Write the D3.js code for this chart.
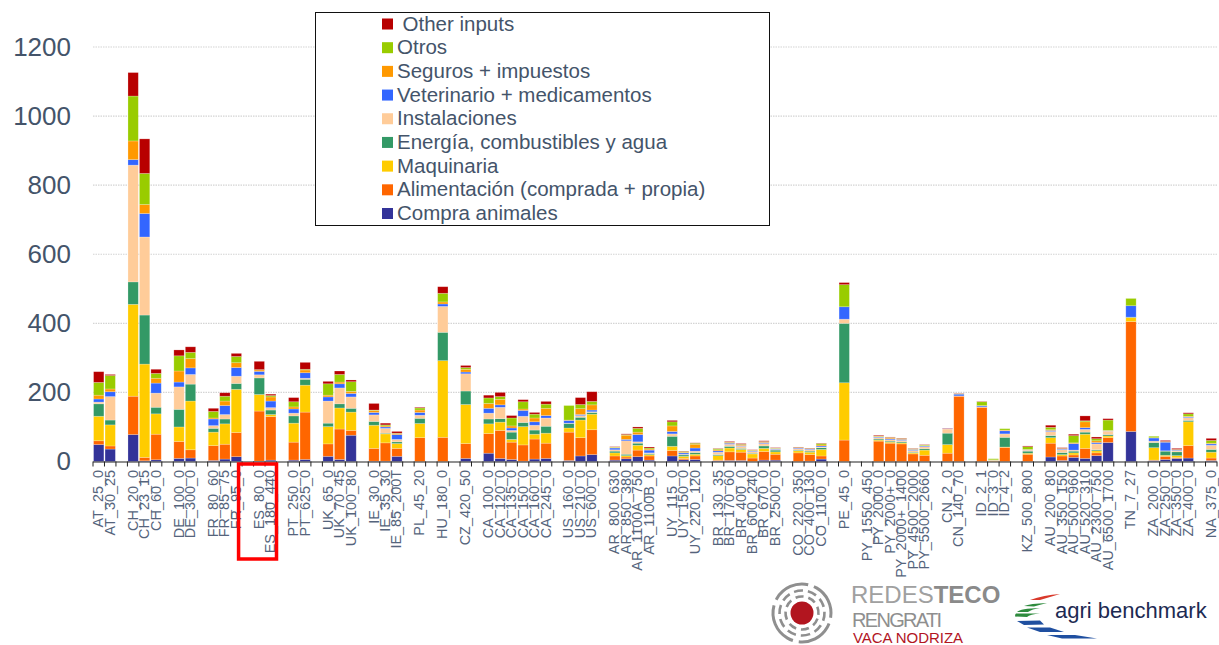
<!DOCTYPE html>
<html><head><meta charset="utf-8">
<script src="https://cdnjs.cloudflare.com/ajax/libs/d3/7.8.5/d3.min.js"></script>
<style>html,body{margin:0;padding:0;background:#fff}svg{display:block}text{font-family:"Liberation Sans",Arial,sans-serif}</style>
</head><body><svg id="c" width="1219" height="645"></svg>
<script>
const seriesNames=["Compra animales","Alimentación (comprada + propia)","Maquinaria","Energía, combustibles y agua","Instalaciones","Veterinario + medicamentos","Seguros + impuestos","Otros","Other inputs"];
const seriesColors=["#333399","#FF6600","#FFCC00","#339966","#FFCC99","#3366FF","#FF9900","#99CC00","#B80000"];
const yTicks=[0,200,400,600,800,1000,1200];
const categories=["AT_25_0","AT_30_25","","CH_20_0","CH_23_15","CH_60_0","","DE_100_0","DE_300_0","","FR_80_60","FR_85_75","FR_95_0","","ES_80_0","ES_180_440","","PT_250_0","PT_625_0","","UK_65_0","UK_70_45","UK_100_80","","IE_30_0","IE_35_30","IE_85_200T","","PL_45_20","","HU_180_0","","CZ_420_50","","CA_100_0","CA_120_0","CA_135_0","CA_150_0","CA_160_0","CA_245_0","","US_160_0","US_210_0","US_600_0","","AR_800_630","AR_850_380","AR_1100A_750","AR_1100B_0","","UY_115_0","UY_150_0","UY_220_120","","BR_130_35","BR_170_60","BR_400_0","BR_600_240","BR_670_0","BR_2500_0","","CO_220_350","CO_400_130","CO_1100_0","","PE_45_0","","PY_1550_450","PY_2000_0","PY_2000+_0","PY_2000+_1400","PY_4500_2000","PY_5500_2660","","CN_2_0","CN_140_70","","ID_2_1","ID_3_0","ID_4_2","","KZ_500_800","","AU_200_80","AU_350_150","AU_500_960","AU_520_310","AU_2300_750","AU_6500_1700","","TN_7_27","","ZA_200_0","ZA_250_0","ZA_350_0","ZA_400_0","","NA_375_0"];
const values={
AT_25_0:[49,11,71,36,5,9,11,37,31],AT_30_25:[36,9,61,14,68,14,8,39,3],
CH_20_0:[78,111,266,65,338,16,54,130,68],CH_23_15:[2,10,270,142,226,68,26,90,100],CH_60_0:[5,74,59,19,41,29,14,14,12],
DE_100_0:[9,49,42,51,65,14,32,44,17],DE_300_0:[10,24,141,49,28,19,27,18,16],
FR_80_60:[3,43,39,11,8,19,3,19,9],FR_85_75:[7,43,59,14,13,26,13,14,10],FR_95_0:[14,70,125,17,21,25,14,18,9],
ES_80_0:[1,145,48,48,9,10,4,1,24],ES_180_440:[4,126,6,13,7,19,12,4,4],
PT_250_0:[4,52,55,21,8,12,6,15,12],PT_625_0:[6,137,78,17,3,16,8,2,20],
UK_65_0:[15,36,50,10,64,12,5,33,7],UK_70_45:[6,88,61,12,46,12,5,22,10],UK_100_80:[76,14,53,11,33,10,6,28,5],
IE_30_0:[1,37,67,11,19,7,6,1,19],IE_35_30:[1,53,26,2,14,4,3,3,5],IE_85_200T:[15,23,14,5,7,14,3,1,5],
PL_45_20:[0,69,41,15,9,8,7,6,2],HU_180_0:[0,70,222,82,75,7,6,25,19],CZ_420_50:[9,43,113,39,50,5,8,5,6],
CA_100_0:[24,57,28,14,17,14,14,16,8],CA_120_0:[9,81,24,10,33,7,16,8,12],CA_135_0:[6,50,8,21,5,7,6,23,7],CA_150_0:[1,47,53,12,18,17,4,21,6],CA_160_0:[7,58,14,12,14,10,11,11,5],CA_245_0:[9,44,29,20,24,7,21,12,8],
US_160_0:[3,82,12,13,1,8,1,42,0],US_210_0:[16,53,51,8,5,3,17,12,20],US_600_0:[20,72,45,5,2,5,15,10,28],
AR_800_630:[4,12,9,5,4,5,2,1,1],AR_850_380:[8,5,4,4,39,4,12,2,2],AR_1100A_750:[14,19,14,6,4,21,7,11,4],AR_1100B_0:[4,12,4,3,2,8,3,3,3],
UY_115_0:[16,16,12,29,7,7,16,12,4],UY_150_0:[5,4,6,4,2,4,2,2,1],UY_220_120:[6,10,5,5,4,9,11,3,1],
BR_130_35:[2,2,13,3,7,4,3,3,1],BR_170_60:[3,25,11,5,6,3,2,1,2],BR_400_0:[3,24,8,3,6,2,2,2,2],BR_600_240:[0,10,12,2,5,2,1,1,1],BR_670_0:[4,25,9,7,7,3,2,1,2],BR_2500_0:[4,17,7,5,2,2,1,1,1],
CO_220_350:[0,25,6,2,4,2,1,1,1],CO_400_130:[1,19,7,3,4,2,1,1,1],CO_1100_0:[7,9,19,5,2,3,3,4,1],
PE_45_0:[0,62,166,172,12,36,0,64,6],
PY_1550_450:[0,0,0,0,0,0,0,0,0],PY_2000_0:[0,59,3,3,4,2,2,1,2],"PY_2000+_0":[0,53,3,3,4,3,3,1,1],"PY_2000+_1400":[0,51,3,3,4,3,2,1,1],PY_4500_2000:[0,22,3,2,5,3,1,1,1],PY_5500_2660:[0,18,15,4,6,2,1,2,1],
CN_2_0:[0,24,25,33,12,1,0,0,1],CN_140_70:[0,189,0,0,1,5,0,1,1],
ID_2_1:[0,157,0,0,1,3,1,11,1],ID_3_0:[0,1,1,1,1,0,1,3,0],ID_4_2:[0,41,1,28,10,9,2,4,0],KZ_500_800:[0,21,3,6,3,1,1,8,2],
AU_200_80:[13,40,16,6,12,3,2,7,6],AU_350_150:[3,13,4,6,8,2,1,1,2],AU_500_960:[12,7,6,5,3,19,2,21,4],AU_520_310:[9,29,41,6,8,5,17,3,14],AU_2300_750:[17,8,6,3,17,4,5,6,5],AU_6500_1700:[55,14,5,4,10,1,1,30,4],
TN_7_27:[87,318,12,1,0,33,0,21,0],
ZA_200_0:[3,1,36,15,4,9,1,4,0],ZA_250_0:[6,9,3,12,1,25,1,1,3],ZA_350_0:[9,2,6,11,3,2,1,1,3],ZA_400_0:[10,36,69,4,8,2,2,7,3],
NA_375_0:[3,7,17,8,12,4,2,8,6]};

const svg=d3.select("#c");
const slate="#44546A";
const slots=categories.map((c,i)=>c||("gap"+i));
const x=d3.scaleBand().domain(slots).range([93,1217]).paddingInner(0).paddingOuter(0);
const y=d3.scaleLinear().domain([0,1200]).range([461.5,47]);
// grid
svg.append("g").selectAll("line").data(yTicks.slice(1)).join("line")
 .attr("x1",93).attr("x2",1217).attr("y1",d=>y(d)).attr("y2",d=>y(d))
 .attr("stroke","#d4d4d4").attr("stroke-width",1.2).attr("stroke-dasharray","1.5 1");
// y labels
const yAxis=d3.axisLeft(y).tickValues(yTicks).tickFormat(d3.format("d")).tickSize(0).tickPadding(22);
const gy=svg.append("g").attr("transform","translate(93,0)").call(yAxis);
gy.select(".domain").remove();
gy.selectAll("text").attr("font-size",26).attr("fill",slate).attr("font-family","Liberation Sans");
// bars
const rows=slots.map((s,i)=>{const o={slot:s};seriesNames.forEach((n,k)=>o[n]=(values[categories[i]]||[])[k]||0);return o;});
const stack=d3.stack().keys(seriesNames)(rows);
const barW=x.bandwidth()*0.9;
svg.append("g").selectAll("g").data(stack).join("g").attr("fill",(d,i)=>seriesColors[i])
 .selectAll("rect").data(d=>d.filter(p=>p[1]>p[0])).join("rect")
 .attr("x",d=>x(d.data.slot)+(x.bandwidth()-barW)/2).attr("width",barW)
 .attr("y",d=>y(d[1])).attr("height",d=>y(d[0])-y(d[1]))
 .attr("stroke","#fff").attr("stroke-opacity",0.3).attr("stroke-width",0.7);
// x axis
const gx=svg.append("g");
gx.append("line").attr("x1",93).attr("x2",1217).attr("y1",y(0)+0.5).attr("y2",y(0)+0.5).attr("stroke","#222").attr("stroke-width",1.2);
gx.selectAll("line.t").data(d3.range(slots.length+1)).join("line").attr("class","t")
 .attr("x1",i=>93+i*x.step()).attr("x2",i=>93+i*x.step()).attr("y1",y(0)).attr("y2",y(0)+5).attr("stroke","#222").attr("stroke-width",1);
svg.append("g").selectAll("text").data(slots.map((s,i)=>({s,c:categories[i]})).filter(d=>d.c)).join("text")
 .attr("transform",d=>`translate(${x(d.s)+x.bandwidth()/2+4.5},470) rotate(-90) scale(1.03,1)`)
 .attr("text-anchor","end").attr("font-size",14).attr("fill","#55647c").text(d=>d.c);
// red highlight
const esL=x("ES_80_0"),esR=x("ES_180_440")+x.bandwidth();
svg.append("rect").attr("x",esL-15).attr("y",464).attr("width",esR-esL+15).attr("height",95)
 .attr("fill","none").attr("stroke","#FF0000").attr("stroke-width",3.5);
// legend
svg.append("rect").attr("x",315.5).attr("y",12.5).attr("width",454).attr("height",213).attr("fill","#fff").attr("stroke","#111").attr("stroke-width",1);
const legendOrder=seriesNames.map((n,i)=>({n,c:seriesColors[i]})).reverse();
const ly=d3.scalePoint().domain(legendOrder.map(d=>d.n)).range([24,213.5]);
const lg=svg.append("g").selectAll("g").data(legendOrder).join("g").attr("transform",d=>`translate(0,${ly(d.n)})`);
lg.append("rect").attr("x",382).attr("y",-5.5).attr("width",11).attr("height",11).attr("fill",d=>d.c);
lg.append("text").attr("x",(d,i)=>i===0?402.5:397).attr("y",6.5).attr("font-size",20.5).attr("fill",slate).text(d=>d.n);
// REDES TECO logo
const lgA=svg.append("g").attr("transform","translate(802,613)");
lgA.append("circle").attr("r",11.5).attr("fill","#B2151F");
[[16.5,"8 5"],[22.5,"9 5"],[29,"38 6"]].forEach(([r,da],i)=>lgA.append("circle").attr("r",r).attr("fill","none").attr("stroke","#8f8f8f").attr("stroke-width",i<2?2.6:3).attr("stroke-dasharray",da).attr("transform",`rotate(${i*50+20})`));
const t1=svg.append("text").attr("x",851).attr("y",603).attr("font-size",24).attr("fill","#a0a0a0").attr("font-family","Open Sans");
t1.append("tspan").attr("font-weight",300).text("REDES");
t1.append("tspan").attr("font-weight",700).attr("fill","#8a8a8a").text("TECO");
svg.append("text").attr("x",852).attr("y",627).attr("font-size",20).attr("textLength",90).attr("fill","#8f8f8f").attr("font-family","Open Sans").attr("font-weight",300).text("RENGRATI");
svg.append("text").attr("x",853).attr("y",642.5).attr("font-size",15).attr("textLength",110).attr("fill","#B2151F").attr("font-family","Open Sans").text("VACA NODRIZA");
// agri benchmark logo
const stripes=[
 ["#D9392B","M1030 600 Q1044 595 1060 594 Q1050 597 1040 600Z"],
 ["#2E8B3D","M1024 606 Q1030 603.5 1047 603 Q1040 604.5 1034 606.5Z"],
 ["#2E8B3D","M1017 612 Q1020 608.5 1040 608 Q1032 609 1028 612Z"],
 ["#2E8B3D","M1015 616.5 Q1015 614 1016 613.5 L1040 613.5 Q1030 614 1027 617Z"],
 ["#1F4FA0","M1017 621 L1040 620.5 L1044 624.5 L1024 625Z"],
 ["#1F4FA0","M1027 627.5 L1050 627.5 L1064 632 L1040 632Z"],
 ["#1F4FA0","M1047 635 L1075 635 L1097 638.5 L1062 638.5Z"]];
svg.append("g").selectAll("path").data(stripes).join("path").attr("fill",d=>d[0]).attr("d",d=>d[1]);
svg.append("text").attr("x",1055).attr("y",618).attr("font-size",22).attr("fill","#1d2a52").attr("font-family","Open Sans").text("agri benchmark");
</script></body></html>
